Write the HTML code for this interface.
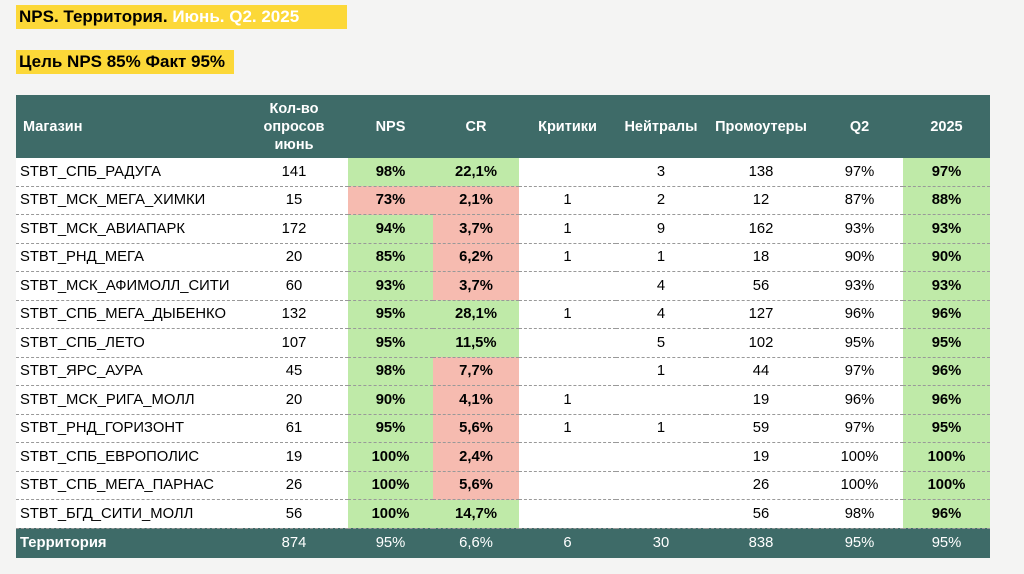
<!DOCTYPE html>
<html><head><meta charset="utf-8">
<style>
body{margin:0;width:1024px;height:574px;background:#f4f4f3;font-family:"Liberation Sans",sans-serif;position:relative;overflow:hidden}
.t1{position:absolute;left:16px;top:5px;width:331px;height:24px;background:#fcd838;font-weight:bold;font-size:17px;line-height:24px;padding-left:3px;box-sizing:border-box;white-space:nowrap}
.t1 span{color:#fff}
.t2{position:absolute;left:16px;top:50px;width:218px;height:24px;background:#fcd838;font-weight:bold;font-size:17px;line-height:24px;padding-left:3px;box-sizing:border-box;white-space:nowrap}
table{position:absolute;left:16px;top:95px;border-collapse:collapse;table-layout:fixed;width:974px;font-size:14.8px}
th{background:#3e6b68;color:#fff;font-weight:bold;height:63px;padding:0;text-align:center;font-size:14.5px;line-height:18px}
th:first-child{text-align:left;padding-left:7px}
td{height:27.5px;padding:0;text-align:center;background:#fff;border-bottom:1px dashed #999;white-space:nowrap}
td:first-child{text-align:left;padding-left:4px}
.g{background:#bfeaa8;font-weight:bold}
.r{background:#f6bbb0;font-weight:bold}
tr.tot td{background:#3e6b68;color:#fff;height:29px;border:none}
tr.tot td:first-child{font-weight:bold}
</style></head><body>
<div class="t1">NPS. Территория. <span>Июнь. Q2. 2025</span></div>
<div class="t2">Цель NPS 85% Факт 95%</div>
<table>
<colgroup><col style="width:224px"><col style="width:108px"><col style="width:85px"><col style="width:86px"><col style="width:97px"><col style="width:90px"><col style="width:110px"><col style="width:87px"><col style="width:87px"></colgroup>
<thead><tr><th>Магазин</th><th>Кол-во<br>опросов<br>июнь</th><th>NPS</th><th>CR</th><th>Критики</th><th>Нейтралы</th><th>Промоутеры</th><th>Q2</th><th>2025</th></tr></thead>
<tbody id="tb"></tbody>
</table>
<script>
const stores=["STBT_СПБ_РАДУГА","STBT_МСК_МЕГА_ХИМКИ","STBT_МСК_АВИАПАРК","STBT_РНД_МЕГА","STBT_МСК_АФИМОЛЛ_СИТИ","STBT_СПБ_МЕГА_ДЫБЕНКО","STBT_СПБ_ЛЕТО","STBT_ЯРС_АУРА","STBT_МСК_РИГА_МОЛЛ","STBT_РНД_ГОРИЗОНТ","STBT_СПБ_ЕВРОПОЛИС","STBT_СПБ_МЕГА_ПАРНАС","STBT_БГД_СИТИ_МОЛЛ"];
const counts=[141,15,172,20,60,132,107,45,20,61,19,26,56];
const nps=["98%","73%","94%","85%","93%","95%","95%","98%","90%","95%","100%","100%","100%"];
const npsCls=["g","r","g","g","g","g","g","g","g","g","g","g","g"];
const cr=["22,1%","2,1%","3,7%","6,2%","3,7%","28,1%","11,5%","7,7%","4,1%","5,6%","2,4%","5,6%","14,7%"];
const crCls=["g","r","r","r","r","g","g","r","r","r","r","r","g"];
const critics=["","1","1","1","","1","","","1","1","","",""];
const neutrals=["3","2","9","1","4","4","5","1","","1","","",""];
const promoters=[138,12,162,18,56,127,102,44,19,59,19,26,56];
const q2=["97%","87%","93%","90%","93%","96%","95%","97%","96%","97%","100%","100%","98%"];
const y2025=["97%","88%","93%","90%","93%","96%","95%","96%","96%","95%","100%","100%","96%"];
const total=["Территория","874","95%","6,6%","6","30","838","95%","95%"];
const tb=document.getElementById('tb');
stores.forEach((s,i)=>{
 const tr=document.createElement('tr');
 
 
 const cells=[[s,''],[counts[i],''],[nps[i],npsCls[i]],[cr[i],crCls[i]],[critics[i],''],[neutrals[i],''],[promoters[i],''],[q2[i],''],[y2025[i],'g']];
 cells.forEach(c=>{const td=document.createElement('td');td.textContent=c[0];if(c[1])td.className=c[1];tr.appendChild(td);});
 tb.appendChild(tr);
});
const tr=document.createElement('tr');tr.className='tot';


total.forEach(v=>{const td=document.createElement('td');td.textContent=v;tr.appendChild(td);});
tb.appendChild(tr);
</script>
</body></html>
